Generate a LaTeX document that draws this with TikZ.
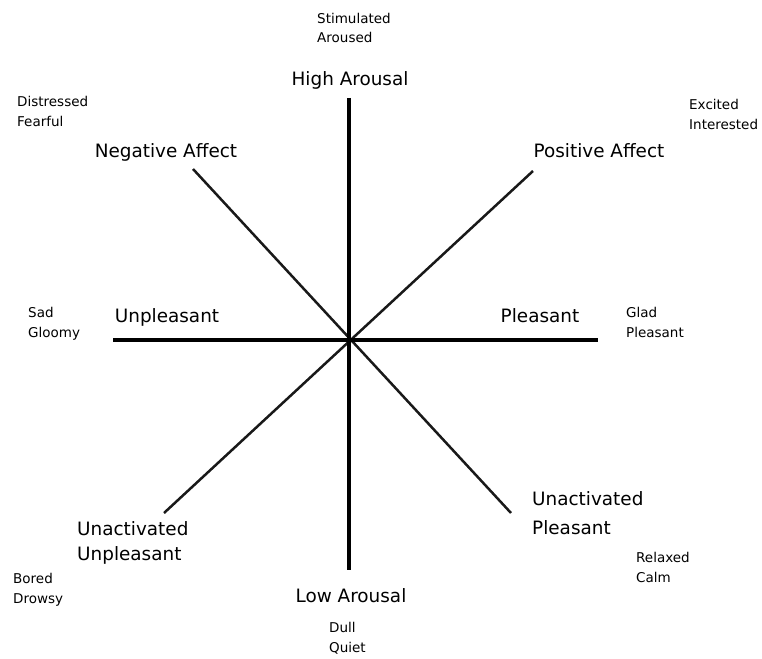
\documentclass[tikz,border=0pt]{standalone}
\usepackage{fontspec}
\setmainfont{DejaVu Sans}
\usepackage{tikz}
\usetikzlibrary{positioning}
\tikzstyle{axis_line}=[line width=3.6pt, black]
\tikzstyle{diag_line}=[line width=2.5pt, black!90]
\tikzstyle{big_label}=[inner sep=0pt, align=left, font=\fontsize{18.4}{25}\selectfont]
\tikzstyle{small_label}=[inner sep=0pt, align=left, anchor=base west, font=\fontsize{13.5}{19.5}\selectfont]

\begin{document}
\begin{tikzpicture}[x=1pt, y=-1pt]
          \useasboundingbox (0,0) rectangle (762,658);
          \coordinate (ctr) at (349,340);
          \coordinate (top) at (349,98);
          \coordinate (bot) at (349,570);
          \coordinate (lft) at (113,340);
          \coordinate (rgt) at (598,340);
          \coordinate (nw) at (193,169);
          \coordinate (ne) at (533,171);
          \coordinate (sw) at (164,513);
          \coordinate (se) at (511,513);
          \draw[diag_line](nw) -- (se);
          \draw[diag_line](ne) -- (sw);
          \draw[axis_line](top) -- (bot);
          \draw[axis_line](lft) -- (rgt);
          % axis names
          \node[big_label, anchor=base] (hi) at (350,86){High Arousal};
          \node[big_label, anchor=base] (lo) at (351,602){Low Arousal};
          \node[big_label, anchor=base] (unpl) at (167,322){Unpleasant};
          \node[big_label, anchor=base] (pleas) at (540,322){Pleasant};
          \node[big_label, anchor=base] (neg) at (166,157){Negative Affect};
          \node[big_label, anchor=base] (pos) at (599,157){Positive Affect};
          \node[big_label, anchor=base west] (uaun) at (77,560){Unactivated\\Unpleasant};
          \node[big_label, anchor=base west, font=\fontsize{18.4}{29}\selectfont] (uapl) at (532,534){Unactivated\\Pleasant};
          % mood words
          \node[small_label] (stim) at (317,43){Stimulated\\Aroused};
          \node[small_label] (dist) at (17,126){Distressed\\Fearful};
          \node[small_label] (exc) at (689,129){Excited\\Interested};
          \node[small_label] (sad) at (28,337){Sad\\Gloomy};
          \node[small_label] (glad) at (626,337){Glad\\Pleasant};
          \node[small_label] (bored) at (13,603){Bored\\Drowsy};
          \node[small_label] (relax) at (636,582){Relaxed\\Calm};
          \node[small_label] (dull) at (329,652){Dull\\Quiet};
        \end{tikzpicture}
\end{document}
